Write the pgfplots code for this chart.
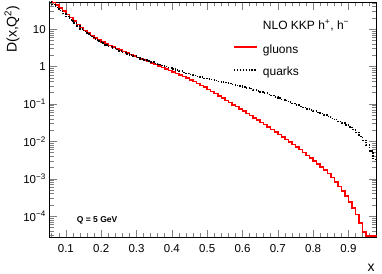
\documentclass[border=0pt]{standalone}
\usepackage{fontspec}
\setmainfont{Liberation Sans}
\usepackage{pgfplots}
\usepackage{pgfplotstable}
\pgfplotsset{compat=1.18}
\definecolor{rootred}{RGB}{255,0,0}

\pgfplotstableread{
x y
0.05 60.3
0.06 52.5
0.07 44.7
0.08 37.2
0.09 30.9
0.10 25.1
0.11 20.4
0.12 16.6
0.13 13.5
0.14 11.2
0.15 9.33
0.16 7.94
0.17 6.76
0.18 5.89
0.19 5.13
0.20 4.57
0.21 4.07
0.22 3.63
0.23 3.31
0.24 3.02
0.25 2.75
0.26 2.51
0.27 2.29
0.28 2.09
0.29 1.95
0.30 1.78
0.31 1.62
0.32 1.51
0.33 1.38
0.34 1.26
0.35 1.15
0.36 1.05
0.37 0.955
0.38 0.871
0.39 0.794
0.40 0.724
0.41 0.661
0.42 0.603
0.43 0.537
0.44 0.490
0.45 0.437
0.46 0.398
0.47 0.355
0.48 0.316
0.49 0.282
0.50 0.245
0.51 0.219
0.52 0.191
0.53 0.166
0.54 0.145
0.55 0.126
0.56 0.110
0.57 0.0955
0.58 0.0851
0.59 0.0741
0.60 0.0646
0.61 0.0562
0.62 0.0490
0.63 0.0427
0.64 0.0372
0.65 0.0324
0.66 0.0282
0.67 0.0240
0.68 0.0209
0.69 0.0178
0.70 0.0151
0.71 0.0132
0.72 0.0112
0.73 0.00977
0.74 0.00832
0.75 0.00708
0.76 0.00603
0.77 0.00501
0.78 0.00427
0.79 0.00363
0.80 0.00302
0.81 0.00251
0.82 0.00209
0.83 0.00170
0.84 0.00138
0.85 0.00107
0.86 0.000832
0.87 0.000631
0.88 0.000479
0.89 0.000347
0.90 0.000240
0.91 0.000166
0.92 0.000110
0.93 0.0000661
0.94 0.0000380
0.95 0.0000300
0.96 0.0000300
0.97 0.0000300
0.98 0.0000300
}\gluons

\pgfplotstableread{
x y
0.05 55.0
0.06 45.7
0.07 38.0
0.08 31.6
0.09 26.3
0.10 21.9
0.11 17.8
0.12 14.8
0.13 12.3
0.14 10.2
0.15 8.71
0.16 7.41
0.17 6.31
0.18 5.50
0.19 4.79
0.20 4.27
0.21 3.80
0.22 3.47
0.23 3.16
0.24 2.88
0.25 2.63
0.26 2.40
0.27 2.19
0.28 2.04
0.29 1.91
0.30 1.74
0.31 1.62
0.32 1.51
0.33 1.41
0.34 1.32
0.35 1.23
0.36 1.15
0.37 1.07
0.38 1.00
0.39 0.933
0.40 0.871
0.41 0.813
0.42 0.759
0.43 0.708
0.44 0.661
0.45 0.617
0.46 0.589
0.47 0.550
0.48 0.525
0.49 0.490
0.50 0.468
0.51 0.447
0.52 0.427
0.53 0.407
0.54 0.389
0.55 0.372
0.56 0.355
0.57 0.331
0.58 0.316
0.59 0.302
0.60 0.288
0.61 0.269
0.62 0.257
0.63 0.240
0.64 0.224
0.65 0.209
0.66 0.195
0.67 0.182
0.68 0.170
0.69 0.155
0.70 0.145
0.71 0.132
0.72 0.123
0.73 0.112
0.74 0.102
0.75 0.0933
0.76 0.0871
0.77 0.0794
0.78 0.0741
0.79 0.0692
0.80 0.0646
0.81 0.0603
0.82 0.0562
0.83 0.0513
0.84 0.0468
0.85 0.0417
0.86 0.0380
0.87 0.0339
0.88 0.0309
0.89 0.0275
0.90 0.0245
0.91 0.0209
0.92 0.0174
0.93 0.0138
0.94 0.0107
0.95 0.00794
0.96 0.00550
0.97 0.00330
0.98 0.00330
}\quarks

\pgfplotstableread{
x y
0.576 3.3
0.640 3.3
}\gluonkey

\pgfplotstableread{
x y
0.576 0.813
0.640 0.813
}\quarkkey

\begin{document}
\begin{tikzpicture}
\useasboundingbox (-49.3bp,-36.5bp) rectangle (332.7bp,237.5bp);
\begin{semilogyaxis}[
  at={(0,0)}, anchor=south west,
  scale only axis, width=327.4bp, height=235.5bp,
  xmin=0.053, xmax=0.98, ymin=2.7e-5, ymax=53.5,
  axis line style={line width=0.8bp},
  tick align=inside, tick pos=both,
  major tick length=8bp, minor tick length=4.5bp,
  tick style={line width=0.6bp},
  xtick={0.1,0.2,0.3,0.4,0.5,0.6,0.7,0.8,0.9},
  xticklabels={0.1,0.2,0.3,0.4,0.5,0.6,0.7,0.8,0.9},
  minor xtick={0.06,0.08,0.12,0.14,0.16,0.18,0.22,0.24,0.26,0.28,0.32,0.34,0.36,0.38,0.42,0.44,0.46,0.48,0.52,0.54,0.56,0.58,0.62,0.64,0.66,0.68,0.72,0.74,0.76,0.78,0.82,0.84,0.86,0.88,0.92,0.94,0.96},
  ytick={1e-4,1e-3,1e-2,1e-1,1,10},
  yticklabels={10\textsuperscript{−4},10\textsuperscript{−3},10\textsuperscript{−2},10\textsuperscript{−1},1,10},
  minor ytick={3e-5,4e-5,5e-5,6e-5,7e-5,8e-5,9e-5,2e-4,3e-4,4e-4,5e-4,6e-4,7e-4,8e-4,9e-4,2e-3,3e-3,4e-3,5e-3,6e-3,7e-3,8e-3,9e-3,2e-2,3e-2,4e-2,5e-2,6e-2,7e-2,8e-2,9e-2,0.2,0.3,0.4,0.5,0.6,0.7,0.8,0.9,2,3,4,5,6,7,8,9,20,30,40,50},
  ticklabel style={font=\fontsize{11.5bp}{13bp}\selectfont},
  xticklabel style={yshift=-3bp},
  ylabel={D(x,Q\textsuperscript{2})},
  ylabel style={at={(axis description cs:-0.114,1)}, anchor=east, font=\fontsize{14bp}{16bp}\selectfont},
  xlabel={x},
  xlabel style={at={(axis description cs:1,0)}, anchor=base east, yshift=-34bp, xshift=1.5bp, font=\fontsize{14bp}{16bp}\selectfont},
]
\addplot[rootred, line width=1.5bp, const plot] table {\gluons};
\addplot[black, line width=1.4bp, dash pattern=on 1.4bp off 1.5bp, const plot] table {\quarks};
% legend samples
\addplot[rootred, line width=2bp, forget plot] table {\gluonkey};
\addplot[black, line width=1.4bp, dash pattern=on 1.4bp off 1.5bp, forget plot] table {\quarkkey};
\node[anchor=base west, inner sep=0pt, font=\fontsize{12bp}{14bp}\selectfont] at (axis description cs:0.652,0.884) {NLO KKP h\textsuperscript{+}, h\textsuperscript{−}};
\node[anchor=base west, inner sep=0pt, font=\fontsize{12bp}{14bp}\selectfont] at (axis description cs:0.652,0.782) {gluons};
\node[anchor=base west, inner sep=0pt, font=\fontsize{12bp}{14bp}\selectfont] at (axis description cs:0.652,0.690) {quarks};
\node[anchor=base west, inner sep=0pt, font=\fontsize{8.5bp}{10bp}\selectfont\bfseries] at (axis description cs:0.0837,0.0628) {Q = 5 GeV};
\end{semilogyaxis}
\end{tikzpicture}
\end{document}
